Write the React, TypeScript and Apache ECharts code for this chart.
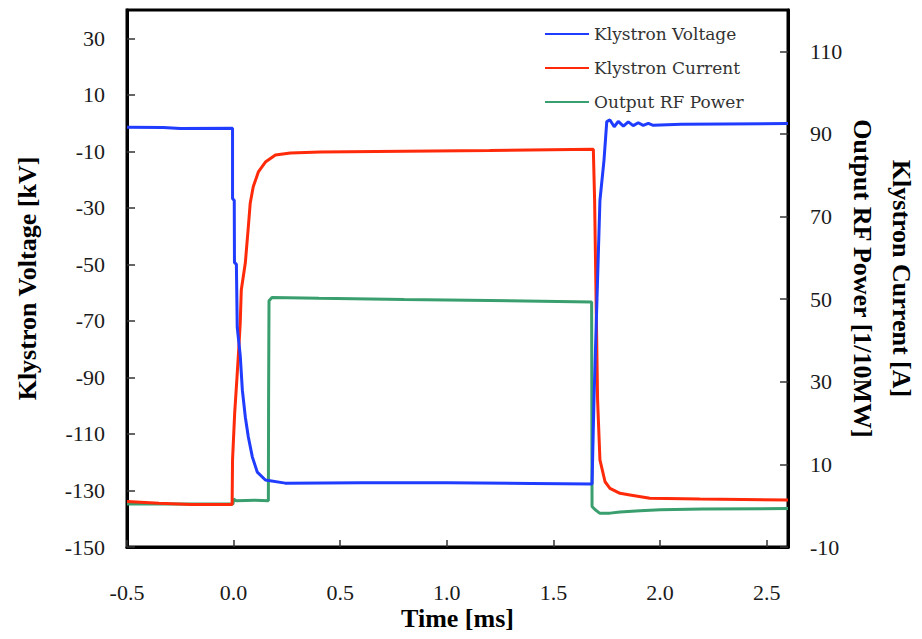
import React, { useEffect, useRef } from "react";
import * as echarts from "echarts";

// Time axis [ms]
const xTicks = [-0.5, 0.0, 0.5, 1.0, 1.5, 2.0, 2.5];

// Klystron Voltage [kV] (left axis)
const voltageTime = [-0.5, -0.33, -0.25, -0.005, -0.005, 0.003, 0.004, 0.013, 0.017, 0.031, 0.041, 0.055, 0.069, 0.088, 0.111, 0.149, 0.242, 0.6, 1.0, 1.4, 1.681, 1.69, 1.704, 1.718, 1.737, 1.75, 1.765, 1.785, 1.804, 1.828, 1.851, 1.874, 1.898, 1.921, 1.945, 1.968, 2.1, 2.3, 2.6];
const voltageKV = [-1.5, -1.6, -1.9, -1.8, -26.7, -27.4, -49.3, -50, -72.3, -82.2, -94.5, -104.1, -111.1, -118.2, -123.5, -126.3, -127.4, -127.3, -127.3, -127.5, -127.7, -98, -62.7, -27.4, -13.2, 0.5, 1.1, -1.3, 0.6, -1.1, 0.4, -0.9, 0.1, -0.8, -0.1, -0.8, -0.4, -0.3, -0.2];

// Klystron Current [A] (right axis)
const currentTime = [-0.5, -0.35, -0.2, -0.007, -0.005, 0.005, 0.016, 0.023, 0.031, 0.036, 0.055, 0.069, 0.078, 0.092, 0.116, 0.149, 0.196, 0.266, 0.406, 0.8, 1.2, 1.687, 1.693, 1.7, 1.707, 1.718, 1.742, 1.765, 1.812, 1.859, 1.952, 2.187, 2.6];
const currentA = [1.0, 0.6, 0.3, 0.3, 11.1, 22.4, 31.2, 37.0, 44.2, 52.2, 58.8, 67.5, 73.3, 77.2, 80.8, 83.2, 84.9, 85.4, 85.6, 85.8, 86.0, 86.3, 74.0, 49.8, 25.6, 11.1, 5.8, 4.2, 3.0, 2.6, 1.8, 1.6, 1.4];

// Output RF Power [1/10 MW] (right axis)
const powerTime = [-0.5, -0.2, -0.003, 0.0, 0.012, 0.1, 0.163, 0.164, 0.166, 0.18, 0.4, 0.8, 1.2, 1.679, 1.681, 1.696, 1.718, 1.765, 1.812, 1.906, 2.0, 2.2, 2.6];
const powerMW = [0.4, 0.4, 0.4, 1.6, 1.2, 1.3, 1.2, 25, 49.6, 50.4, 50.2, 49.9, 49.7, 49.3, -0.2, -1.0, -1.85, -1.8, -1.5, -1.2, -1.0, -0.8, -0.7];

const seriesNames = ["Klystron Voltage", "Klystron Current", "Output RF Power"];
const seriesColors = ["#1f3cff", "#ff2a0a", "#3a9f6e"];

const pair = (t: number[], v: number[]) => t.map((x, i) => [x, v[i]]);

const tickFont = {
  fontFamily: "'Liberation Serif', 'Times New Roman', serif",
  fontSize: 22,
  color: "#1a1a1a",
};
const titleFont = {
  fontFamily: "'Liberation Serif', 'Times New Roman', serif",
  fontSize: 26,
  fontWeight: "bold" as const,
  color: "#000",
};

export default function App() {
  const ref = useRef<HTMLDivElement>(null);
  useEffect(() => {
    if (!ref.current) return;
    document.body.style.margin = "0";
    document.documentElement.style.overflow = "hidden";
    const chart = echarts.init(ref.current, undefined, { renderer: "svg", width: 922, height: 639 });
    chart.setOption({
      animation: false,
      backgroundColor: "#fff",
      grid: {
        left: 127,
        width: 661,
        top: 10,
        height: 537,
        outerBoundsMode: "none",
        containLabel: false,
        show: true,
        borderColor: "#000",
        borderWidth: 3,
        backgroundColor: "transparent",
      },
      legend: {
        orient: "vertical",
        left: 540,
        top: 20,
        itemWidth: 44,
        itemHeight: 2,
        itemGap: 16,
        icon: "rect",
        data: seriesNames,
        textStyle: {
          fontFamily: "'DejaVu Serif', serif",
          fontSize: 17,
          lineHeight: 18,
          color: "#333",
        },
      },
      xAxis: {
        type: "value",
        min: -0.5,
        max: 2.6,
        interval: 0.5,
        name: "Time [ms]",
        nameLocation: "middle",
        nameGap: 58,
        nameMoveOverlap: false,
        nameTextStyle: titleFont,
        axisLine: { show: true, onZero: false, lineStyle: { color: "#000", width: 3 } },
        axisTick: { show: true, inside: true, length: 7, lineStyle: { color: "#333", width: 1.5 } },
        axisLabel: {
          ...tickFont,
          margin: 34,
          showMaxLabel: false,
          formatter: (v: number) => (xTicks.some((t) => Math.abs(t - v) < 1e-9) ? v.toFixed(1) : ""),
        },
        splitLine: { show: false },
      },
      yAxis: [
        {
          type: "value",
          min: -150,
          max: 40,
          interval: 20,
          position: "left",
          name: "Klystron Voltage [kV]",
          nameLocation: "middle",
          nameRotate: 90,
          nameGap: 87,
          nameMoveOverlap: false,
          nameTextStyle: titleFont,
          axisLine: { show: true, onZero: false, lineStyle: { color: "#000", width: 3 } },
          axisTick: { show: true, inside: true, length: 8, lineStyle: { color: "#333", width: 1.5 } },
          axisLabel: { ...tickFont, margin: 22, showMaxLabel: false },
          splitLine: { show: false },
        },
        {
          type: "value",
          min: -10,
          max: 120,
          interval: 20,
          position: "right",
          name: "Klystron Current [A]\nOutput RF Power [1/10MW]",
          nameLocation: "middle",
          nameRotate: -90,
          nameGap: 55,
          nameMoveOverlap: false,
          nameTextStyle: { ...titleFont, lineHeight: 39 },
          axisLine: { show: true, onZero: false, lineStyle: { color: "#000", width: 3 } },
          axisTick: { show: true, inside: true, length: 8, lineStyle: { color: "#333", width: 1.5 } },
          axisLabel: { ...tickFont, margin: 22, showMaxLabel: false },
          splitLine: { show: false },
        },
      ],
      series: [
        {
          name: seriesNames[2],
          type: "line",
          yAxisIndex: 1,
          showSymbol: false,
          color: seriesColors[2],
          lineStyle: { width: 3, color: seriesColors[2] },
          data: pair(powerTime, powerMW),
          z: 2,
        },
        {
          name: seriesNames[1],
          type: "line",
          yAxisIndex: 1,
          showSymbol: false,
          color: seriesColors[1],
          lineStyle: { width: 3, color: seriesColors[1] },
          data: pair(currentTime, currentA),
          z: 3,
        },
        {
          name: seriesNames[0],
          type: "line",
          yAxisIndex: 0,
          showSymbol: false,
          color: seriesColors[0],
          lineStyle: { width: 3, color: seriesColors[0] },
          data: pair(voltageTime, voltageKV),
          z: 4,
        },
      ],
    });
    return () => chart.dispose();
  }, []);
  return (
    <div
      ref={ref}
      style={{ position: "fixed", left: 0, top: 0, width: 922, height: 639, background: "#fff" }}
    />
  );
}
